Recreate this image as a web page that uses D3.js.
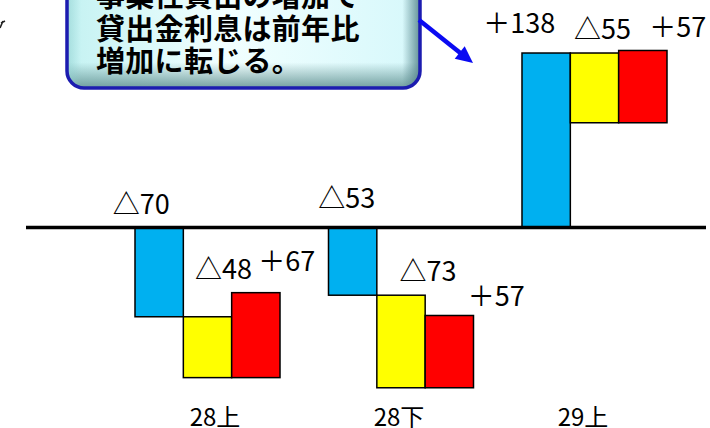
<!DOCTYPE html>
<html>
<head>
<meta charset="utf-8">
<script src="https://cdn.jsdelivr.net/npm/d3@7/dist/d3.min.js"></script>
<style>
  html, body { margin: 0; padding: 0; background: #fff; }
  svg { display: block; }
  text { font-family: "Noto Sans CJK JP", "Noto Sans", sans-serif; }
</style>
</head>
<body>
<svg id="chart" width="710" height="428"></svg>
<script>
// Half-year periods and the three contributions (yen-change breakdown)
const categories = ["28上", "28下", "29上"];
const seriesKeys = ["volume", "rate", "other"];
const volumeChange = [-70, -53, 138];
const rateChange   = [-48, -73, -55];
const otherChange  = [67, 57, 57];

// Callout text
const noteLines = ["事業性貸出の増加で", "貸出金利息は前年比", "増加に転じる。"];

// Label nudges relative to the top-centre of each bar: [dx, dy]
const labelNudge = {
  "28上": [[-18, -14], [16, -38], [31, -22]],
  "28下": [[-6, -20], [27, -14], [47, -9]],
  "29上": [[-27, -20], [8, -14], [35, -13]]
};

const colors = { volume: "#00b0f0", rate: "#ffff00", other: "#ff0000" };

const svg = d3.select("#chart");

// ---- scales ----
const zeroY = 228, pxPerUnit = 1.268;
const y = d3.scaleLinear()
  .domain([-130, 170])
  .range([zeroY + 130 * pxPerUnit, zeroY - 170 * pxPerUnit]);

const x0 = d3.scaleBand()
  .domain(categories)
  .range([135, 667])
  .paddingInner(0.2506)
  .paddingOuter(0);

const x1 = d3.scaleBand()
  .domain(seriesKeys)
  .range([0, x0.bandwidth()])
  .padding(0);

const xLabel = d3.scalePoint()
  .domain(categories)
  .range([215, 583]);

// ---- build cumulative (waterfall) segments ----
const segments = [];
categories.forEach((c, i) => {
  const vals = [volumeChange[i], rateChange[i], otherChange[i]];
  let run = 0;
  vals.forEach((v, j) => {
    const start = run, end = run + v;
    run = end;
    segments.push({ cat: c, key: seriesKeys[j], idx: j, value: v, start, end });
  });
});

// ---- callout box ----
const defs = svg.append("defs");
const g1 = defs.append("linearGradient").attr("id", "boxFill")
  .attr("x1", "0").attr("y1", "0").attr("x2", "1").attr("y2", "0");
g1.append("stop").attr("offset", "0").attr("stop-color", "#c4f2f2");
g1.append("stop").attr("offset", "0.45").attr("stop-color", "#f2ffff");
g1.append("stop").attr("offset", "1").attr("stop-color", "#d6f8fb");

const g2 = defs.append("linearGradient").attr("id", "boxShadeB")
  .attr("x1", "0").attr("y1", "0").attr("x2", "0").attr("y2", "1");
g2.append("stop").attr("offset", "0.8").attr("stop-color", "#5f8f8f").attr("stop-opacity", 0);
g2.append("stop").attr("offset", "1").attr("stop-color", "#5f8f8f").attr("stop-opacity", 0.85);

const g3 = defs.append("linearGradient").attr("id", "boxShadeR")
  .attr("x1", "0").attr("y1", "0").attr("x2", "1").attr("y2", "0");
g3.append("stop").attr("offset", "0.95").attr("stop-color", "#4f7f85").attr("stop-opacity", 0);
g3.append("stop").attr("offset", "1").attr("stop-color", "#4f7f85").attr("stop-opacity", 0.85);

const g4 = defs.append("linearGradient").attr("id", "boxShadeL")
  .attr("x1", "0").attr("y1", "0").attr("x2", "1").attr("y2", "0");
g4.append("stop").attr("offset", "0").attr("stop-color", "#8fcfcf").attr("stop-opacity", 0.6);
g4.append("stop").attr("offset", "0.04").attr("stop-color", "#8fcfcf").attr("stop-opacity", 0);

const box = { x: 67, y: -40, w: 353, h: 128, r: 17 };
const boxG = svg.append("g");
boxG.append("rect")
  .attr("x", box.x).attr("y", box.y).attr("width", box.w).attr("height", box.h)
  .attr("rx", box.r).attr("fill", "url(#boxFill)");
["boxShadeB", "boxShadeR", "boxShadeL"].forEach(id => {
  boxG.append("rect")
    .attr("x", box.x).attr("y", box.y).attr("width", box.w).attr("height", box.h)
    .attr("rx", box.r).attr("fill", `url(#${id})`);
});
boxG.append("rect")
  .attr("x", box.x).attr("y", box.y).attr("width", box.w).attr("height", box.h)
  .attr("rx", box.r).attr("fill", "none")
  .attr("stroke", "#1c1cb0").attr("stroke-width", 3.5);

boxG.selectAll("text.note")
  .data(noteLines)
  .join("text")
  .attr("class", "note")
  .attr("x", 96)
  .attr("y", (d, i) => 7 + i * 32.5)
  .attr("font-size", 29)
  .attr("font-weight", 700)
  .attr("letter-spacing", 0.3)
  .attr("fill", "#000")
  .text(d => d);

// ---- pointer arrow from the callout ----
const arrowFrom = [419, 20], arrowTip = [473, 63];
const ang = Math.atan2(arrowTip[1] - arrowFrom[1], arrowTip[0] - arrowFrom[0]);
const headLen = 17, headHalf = 8;
const base = [arrowTip[0] - headLen * Math.cos(ang), arrowTip[1] - headLen * Math.sin(ang)];
svg.append("line")
  .attr("x1", arrowFrom[0]).attr("y1", arrowFrom[1])
  .attr("x2", base[0] + 2 * Math.cos(ang)).attr("y2", base[1] + 2 * Math.sin(ang))
  .attr("stroke", "#0a0af2").attr("stroke-width", 4.5);
svg.append("polygon")
  .attr("points", [
    arrowTip,
    [base[0] + headHalf * Math.sin(ang), base[1] - headHalf * Math.cos(ang)],
    [base[0] - headHalf * Math.sin(ang), base[1] + headHalf * Math.cos(ang)]
  ].map(p => p.join(",")).join(" "))
  .attr("fill", "#0a0af2");

// small stroke at the left edge (end of another pointer)
svg.append("path")
  .attr("d", "M0,28 L3,21 M1,23 L5,21")
  .attr("stroke", "#222").attr("stroke-width", 1.6).attr("fill", "none");

// ---- bars ----
const barG = svg.append("g");
barG.selectAll("rect")
  .data(segments)
  .join("rect")
  .attr("x", d => x0(d.cat) + x1(d.key))
  .attr("width", x1.bandwidth())
  .attr("y", d => y(Math.max(d.start, d.end)))
  .attr("height", d => Math.abs(y(d.start) - y(d.end)))
  .attr("fill", d => colors[d.key])
  .attr("stroke", "#000")
  .attr("stroke-width", 1.5);

// ---- zero line ----
svg.append("line")
  .attr("x1", 26).attr("x2", 706)
  .attr("y1", y(0) - 0.5).attr("y2", y(0) - 0.5)
  .attr("stroke", "#000").attr("stroke-width", 3.6);

// ---- value labels ----
const fmt = v => (v >= 0 ? "＋" : "△") + Math.abs(v);
svg.append("g").selectAll("text")
  .data(segments)
  .join("text")
  .attr("x", d => x0(d.cat) + x1(d.key) + x1.bandwidth() / 2 + labelNudge[d.cat][d.idx][0])
  .attr("y", d => y(Math.max(d.start, d.end)) + labelNudge[d.cat][d.idx][1])
  .attr("text-anchor", "middle")
  .attr("font-size", 27)
  .attr("fill", "#000")
  .text(d => fmt(d.value));

// ---- category axis labels ----
svg.append("g").selectAll("text")
  .data(categories)
  .join("text")
  .attr("x", d => xLabel(d))
  .attr("y", 426)
  .attr("text-anchor", "middle")
  .attr("font-size", 24)
  .attr("fill", "#000")
  .text(d => d);
</script>
</body>
</html>
